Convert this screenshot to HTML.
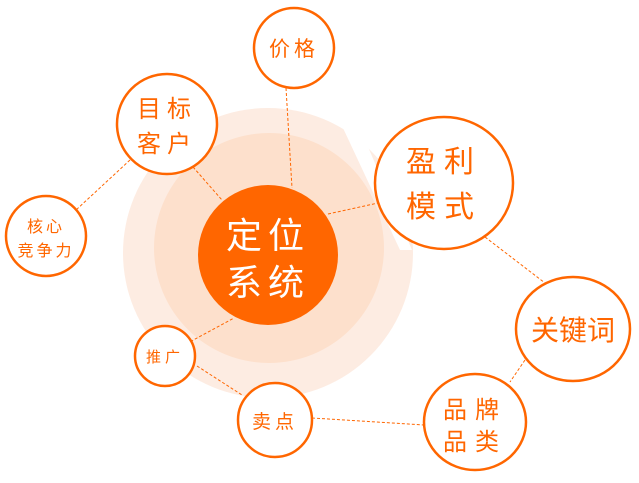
<!DOCTYPE html>
<html><head><meta charset="utf-8"><style>
html,body{margin:0;padding:0;background:#fff}
svg text{font-family:"Liberation Sans","Noto Sans CJK SC",sans-serif;fill:#ff6600;text-anchor:middle}
</style></head><body>
<svg width="639" height="478" viewBox="0 0 639 478" xmlns="http://www.w3.org/2000/svg">
<circle cx="268" cy="253" r="145" fill="#fdece2"/>
<circle cx="269" cy="248" r="115" fill="#fde0cc"/>
<polygon points="343,128 360,128 412,250 400,250" fill="#fff"/>
<g stroke="#ff6600" stroke-width="1" stroke-dasharray="3,2" fill="none">
<line x1="286" y1="88" x2="292" y2="188"/>
<line x1="193" y1="167" x2="222" y2="200"/>
<line x1="130" y1="160" x2="76" y2="210"/>
<line x1="328" y1="214" x2="378" y2="203"/>
<line x1="485" y1="237" x2="545" y2="283"/>
<line x1="525" y1="360" x2="510" y2="382"/>
<line x1="312" y1="418" x2="424" y2="425"/>
<line x1="197" y1="366" x2="242" y2="395"/>
<line x1="186" y1="344" x2="234" y2="318"/>
</g>
<circle cx="268" cy="255" r="70" fill="#ff6600"/>
<text x="268" y="248" font-size="36" style="fill:#fff" letter-spacing="6">定位</text>
<text x="268" y="295" font-size="36" style="fill:#fff" letter-spacing="6">系统</text>
<g fill="#fff" stroke="#ff6600" stroke-width="2.5">
<circle cx="294" cy="48" r="40"/>
<circle cx="167" cy="124" r="50"/>
<circle cx="46" cy="236" r="40"/>
<ellipse cx="444" cy="183" rx="69" ry="66"/>
<ellipse cx="573" cy="329" rx="57" ry="52"/>
<ellipse cx="475" cy="422" rx="51" ry="48"/>
<circle cx="275" cy="420" r="37"/>
<circle cx="165" cy="356" r="30"/>
</g>
<text x="294" y="56" font-size="21" letter-spacing="4">价格</text>
<text x="167" y="117" font-size="24" letter-spacing="6">目标</text>
<text x="167" y="152" font-size="24" letter-spacing="6">客户</text>
<text x="46" y="232" font-size="16" letter-spacing="3">核心</text>
<text x="46" y="256" font-size="16" letter-spacing="3">竞争力</text>
<text x="444" y="172" font-size="30" letter-spacing="8">盈利</text>
<text x="444" y="217" font-size="30" letter-spacing="8">模式</text>
<text x="573" y="340" font-size="28">关键词</text>
<text x="475" y="418" font-size="24" letter-spacing="8">品牌</text>
<text x="475" y="450" font-size="24" letter-spacing="8">品类</text>
<text x="275" y="428" font-size="19" letter-spacing="4">卖点</text>
<text x="165" y="362" font-size="15" letter-spacing="4">推广</text>
</svg>
</body></html>
